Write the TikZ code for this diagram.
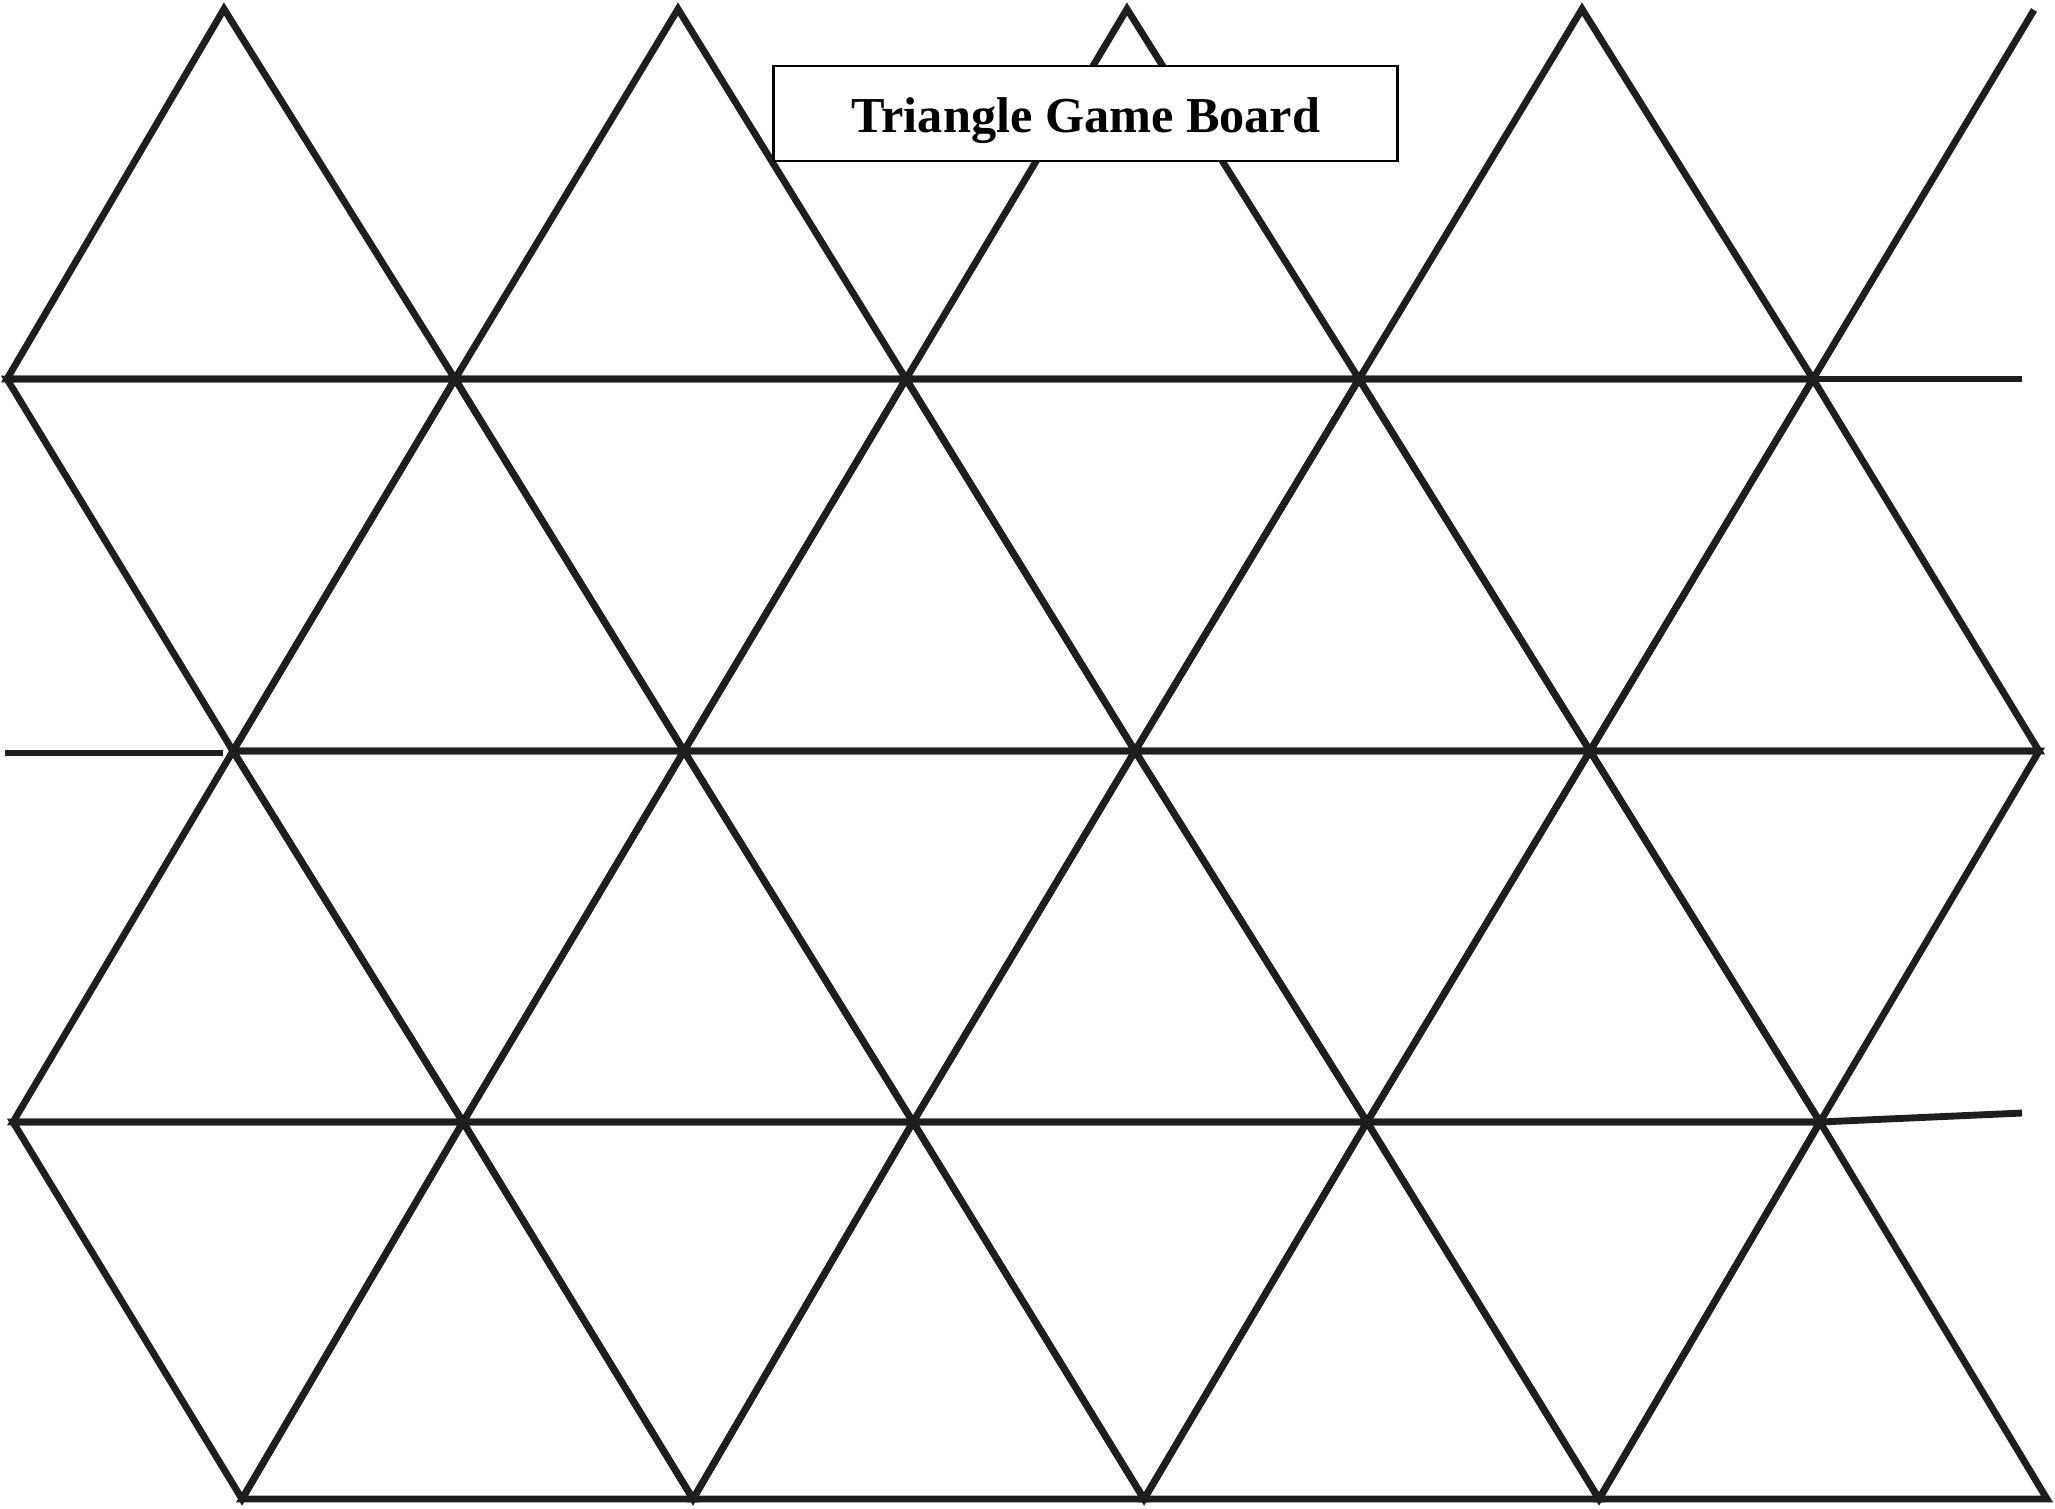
\documentclass[tikz,border=0pt]{standalone}
\usepackage{fontspec}
\setmainfont{Liberation Serif}
\definecolor{ink}{RGB}{33,29,26}
\begin{document}
\begin{tikzpicture}[x=0.01cm,y=-0.01cm,
  gridline/.style={draw=ink,line width=1.95pt,line join=miter,miter limit=20},
  titlebox/.style={draw=black,fill=white,line width=0.8pt,minimum width=6.23cm,minimum height=0.95cm,inner sep=0pt},
  titletext/.style={inner sep=0pt,anchor=base,font=\fontsize{14.3}{16}\selectfont\bfseries}]
\useasboundingbox (0,0) rectangle (2055,1508);
% vertices
\coordinate (A1) at (224,9);  \coordinate (A2) at (678,9);
\coordinate (A3) at (1127,9); \coordinate (A4) at (1582,9);
\coordinate (E)  at (2034,10);
\coordinate (B0) at (7,379);  \coordinate (B1) at (455,379); \coordinate (B2) at (906,379);
\coordinate (B3) at (1359,379); \coordinate (B4) at (1813,379); \coordinate (Bend) at (2022,379);
\coordinate (C0) at (233,751); \coordinate (C1) at (684,751); \coordinate (C2) at (1135,751);
\coordinate (C3) at (1590,751); \coordinate (C4) at (2039,751);
\coordinate (Ls) at (5,753); \coordinate (Le) at (223,753);
\coordinate (D0) at (13,1122); \coordinate (D1) at (463,1122); \coordinate (D2) at (913,1122);
\coordinate (D3) at (1367,1122); \coordinate (D4) at (1820,1122); \coordinate (Re) at (2022,1113);
\coordinate (F0) at (242,1499); \coordinate (F1) at (693,1499); \coordinate (F2) at (1144,1499);
\coordinate (F3) at (1599,1499); \coordinate (F4) at (2047,1499);
% row 1
\foreach \a/\b/\c in {B0/A1/B1,B1/A2/B2,B2/A3/B3,B3/A4/B4}
  \path[gridline] (\a) -- (\b) -- (\c) -- cycle;
\path[gridline] (B4) -- (E);
\path[gridline] (B4) -- (Bend);
% row 2
\foreach \a/\b/\c in {B0/B1/C0,C0/B1/C1,B1/B2/C1,C1/B2/C2,B2/B3/C2,C2/B3/C3,B3/B4/C3,C3/B4/C4}
  \path[gridline] (\a) -- (\b) -- (\c) -- cycle;
\path[gridline] (Ls) -- (Le);
% row 3
\foreach \a/\b/\c in {D0/C0/D1,C0/C1/D1,D1/C1/D2,C1/C2/D2,D2/C2/D3,C2/C3/D3,D3/C3/D4,C3/C4/D4}
  \path[gridline] (\a) -- (\b) -- (\c) -- cycle;
\path[gridline] (D4) -- (Re);
% row 4
\foreach \a/\b/\c in {D0/D1/F0,F0/D1/F1,D1/D2/F1,F1/D2/F2,D2/D3/F2,F2/D3/F3,D3/D4/F3,F3/D4/F4}
  \path[gridline] (\a) -- (\b) -- (\c) -- cycle;
% title
\node[titlebox] (box) at (1085.5,113.5) {};
\node[titletext] (title) at (1086,132) {Triangle Game Board};
\end{tikzpicture}
\end{document}
